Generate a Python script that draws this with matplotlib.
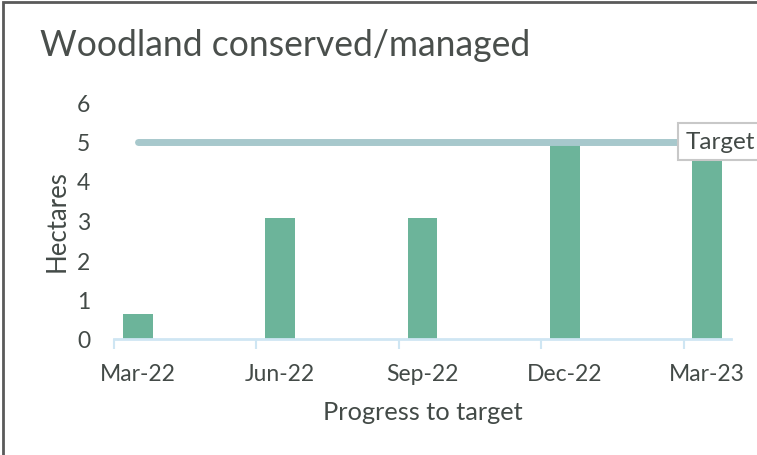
import matplotlib.pyplot as plt
from matplotlib.patches import Rectangle

plt.rcParams['font.family'] = ['Lato', 'DejaVu Sans']

# months since Mar-22, one slot per month
months = [0, 3, 6, 9, 12]
labels = ['Mar-22', 'Jun-22', 'Sep-22', 'Dec-22', 'Mar-23']
hectares = [0.64, 3.07, 3.07, 5.0, 4.6]
target = 5

textColor = '#434a47'

fig = plt.figure(figsize=(7.57, 4.56), dpi=100)
ax = fig.add_axes([114/757, 116/456, 617/757, 237/456])

ax.bar(months, hectares, width=0.63, color='#6cb49a', zorder=2)
ax.plot([months[0], months[-1]], [target, target], color='#a7c8cc',
        linewidth=5, solid_capstyle='round', zorder=3)
ax.text(12.28, target, 'Target', ha='center', va='center', fontsize=17.5,
        color=textColor, zorder=4, clip_on=False,
        bbox=dict(boxstyle='square,pad=0.32', facecolor='white',
                  edgecolor='#c8c8c8', linewidth=1.5))

ax.set_xlim(-0.5, 12.5)
ax.set_ylim(0, 6)
ax.set_xticks(months)
ax.set_xticklabels(labels)
ax.set_xticks([m - 0.5 for m in months[:-1]] + [11.5], minor=True)
ax.tick_params(axis='x', which='major', length=0, pad=17, labelsize=16.5, labelcolor=textColor)
ax.tick_params(axis='x', which='minor', length=7, width=1.5, color='#cfe6f3')
ax.set_yticks(range(7))
ax.tick_params(axis='y', length=0, pad=17, labelsize=16.5, labelcolor=textColor)

for side in ['top', 'right', 'left']:
    ax.spines[side].set_visible(False)
ax.spines['bottom'].set_color('#cfe6f3')
ax.spines['bottom'].set_linewidth(2)

ax.set_xlabel('Progress to target', fontsize=18.3, color=textColor, labelpad=12)
ax.set_ylabel('Hectares', fontsize=18.5, color=textColor, labelpad=5)

fig.text(40/757, 1 - 46/456, 'Woodland conserved/managed', fontsize=25.6,
         color='#4a4f4c', va='center', ha='left')

# outer frame, partly cut off on the right and bottom
fig.patches.append(Rectangle((3/757, -0.2), 1.2, 1 - 3/456 + 0.2,
                             transform=fig.transFigure, fill=False,
                             edgecolor='#5a5a5a', linewidth=2))

fig.savefig('out.png', dpi=100)
